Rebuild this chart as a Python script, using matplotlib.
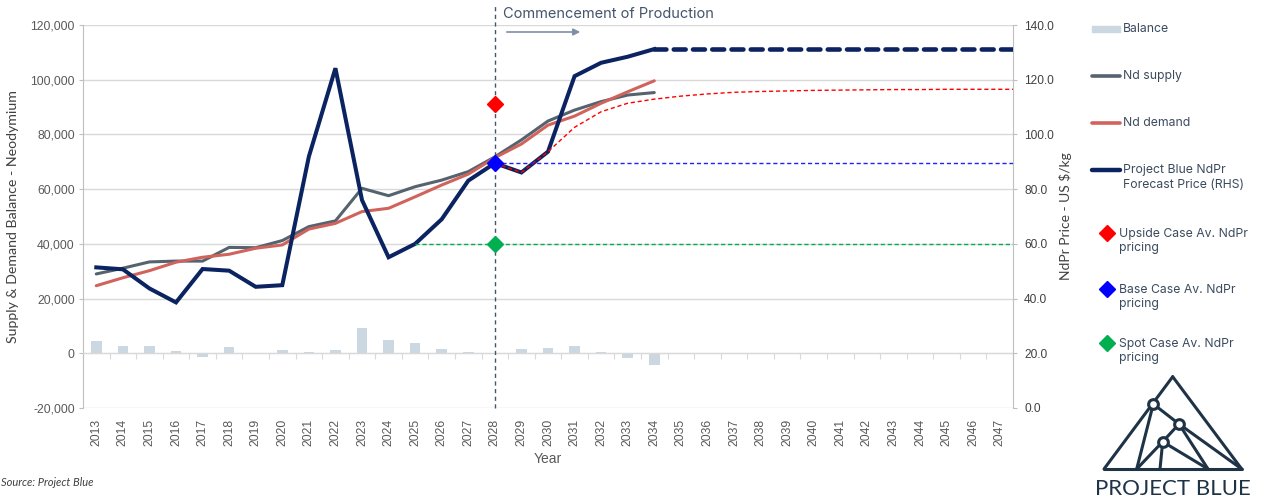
import matplotlib
matplotlib.use('Agg')
import matplotlib.pyplot as plt
import numpy as np
from matplotlib.lines import Line2D
from matplotlib.patches import Rectangle

# ---------------- data ----------------
years = list(range(2013, 2048))
hist_years = list(range(2013, 2035))
nd_supply = [29000, 31100, 33400, 33700, 33700, 38700, 38600, 41200, 46300, 48400, 60300,
             57600, 60900, 63300, 66400, 71800, 78000, 84900, 88900, 92000, 94400, 95300]
nd_demand = [24700, 27600, 30200, 33300, 35100, 36200, 38400, 39600, 45400, 47500, 51800,
             53000, 57200, 61500, 65500, 71500, 76500, 83400, 86700, 91400, 95600, 99600]
balance = [4600, 2700, 2700, 700, -1200, 2400, 0, 1200, 500, 1200, 9200,
           4800, 3800, 1700, 500, 0, 1700, 1900, 2500, 500, -1800, -4400]
price = [51.4, 50.7, 43.7, 38.6, 50.8, 50.2, 44.3, 44.9, 91.9, 124.2, 76.0,
         55.1, 60.0, 69.0, 83.1, 89.5, 86.1, 93.7, 121.3, 126.2, 128.4, 131.2]
price_flat_from = 2034
price_flat = 131.2
upside_years = list(range(2028, 2048))
upside_curve = [89.5, 86.1, 93.7, 102.6, 108.3, 111.4, 112.9, 114.0, 114.8, 115.4,
                115.7, 115.9, 116.1, 116.2, 116.3, 116.4, 116.4, 116.5, 116.5, 116.5]
case_year = 2028
upside_case = 111.1
base_case = 89.5
spot_case = 60.0
spot_start = 2025

# ---------------- style ----------------
C_SUPPLY = '#55636F'
C_DEMAND = '#D0635C'
C_PRICE = '#0B2360'
C_BAL = '#CBD8E2'
C_GRID = '#D9D9D9'
C_TICK = '#595959'
C_LEG = '#3B4B5E'
TICKFONT = 'Liberation Sans'
LABFONT = 'Lato'
LEGFONT = 'Inter'

W, H = 1267, 501
fig = plt.figure(figsize=(W / 100, H / 100), dpi=100)
fig.patch.set_facecolor('white')


def P(x, y):
    return (x / W, 1 - y / H)


ax = fig.add_axes([83 / W, 1 - 408 / H, (1013 - 83) / W, (408 - 25) / H])
ax2 = ax.twinx()

idx = np.array(years) - years[0]
hidx = np.array(hist_years) - years[0]
xmin, xmax = -0.5, len(years) - 0.5

# left axis: bars + supply/demand
ax.bar(hidx, balance, width=0.4, color=C_BAL, zorder=2)
ax.plot(hidx, nd_supply, color=C_SUPPLY, lw=2.2, zorder=3, solid_capstyle='round')
ax.plot(hidx, nd_demand, color=C_DEMAND, lw=2.2, zorder=3, solid_capstyle='round')
ax.set_xlim(xmin, xmax)
ax.set_ylim(-20000, 120000)
ax.set_yticks(np.arange(-20000, 120001, 20000))
ax.yaxis.set_major_formatter(matplotlib.ticker.FuncFormatter(lambda v, p: f'{int(v):,}'))
ax.grid(axis='y', color=C_GRID, lw=1.0, zorder=0)
ax.set_axisbelow(True)
for s in ['top', 'right']:
    ax.spines[s].set_visible(False)
ax.spines['left'].set_color('#BFBFBF')
ax.spines['bottom'].set_position(('data', 0))
ax.spines['bottom'].set_color(C_GRID)
ax.set_xticks(np.arange(xmin, xmax + 0.01, 1.0))
ax.tick_params(axis='x', which='both', length=4, color=C_GRID, labelbottom=False, direction='out')
ax.tick_params(axis='y', length=3, color='#BFBFBF', labelcolor=C_TICK, labelsize=8.8, pad=3)
for lab in ax.get_yticklabels():
    lab.set_fontfamily(TICKFONT)

sec = ax.secondary_xaxis('bottom')
sec.set_xticks(idx, labels=[str(y) for y in years], rotation=90)
sec.tick_params(length=0, labelsize=8.7, labelcolor=C_TICK, pad=8)
for lab in sec.get_xticklabels():
    lab.set_fontfamily(TICKFONT)
sec.spines['bottom'].set_visible(False)
sec.set_xlabel('Year', fontsize=10, color=C_TICK, family=TICKFONT, labelpad=4)

ax.set_ylabel('Supply & Demand Balance - Neodymium', fontsize=10.2, color='#404040',
              family=LABFONT, labelpad=8)

# right axis: price
ax2.set_ylim(0, 140)
ax2.set_yticks(np.arange(0, 141, 20))
ax2.yaxis.set_major_formatter(matplotlib.ticker.FormatStrFormatter('%.1f'))
ax2.tick_params(axis='y', length=3, color='#BFBFBF', labelcolor='#404040', labelsize=8.6, pad=5)
for lab in ax2.get_yticklabels():
    lab.set_fontfamily(TICKFONT)
for s in ['top', 'left', 'bottom']:
    ax2.spines[s].set_visible(False)
ax2.spines['right'].set_color('#BFBFBF')
ax2.set_ylabel('NdPr Price - US $/kg', fontsize=10, color='#404040', family=LABFONT, labelpad=4)

ax2.plot(hidx, price, color=C_PRICE, lw=2.9, zorder=3, solid_joinstyle='miter')
flat_start = price_flat_from - years[0]
ax2.plot([flat_start, xmax], [price_flat, price_flat], color=C_PRICE, lw=3.3,
         dashes=(2.6, 1.6), dash_capstyle='round', zorder=3)

ux = np.array(upside_years) - years[0]
ax2.plot(np.append(ux, xmax), np.append(upside_curve, upside_curve[-1]), color='#FF0000',
         lw=1.0, dashes=(3, 2), zorder=4)
cx = case_year - years[0]
ax2.plot([cx, xmax], [base_case, base_case], color='#1F1FFF', lw=1.0, dashes=(3, 2), zorder=4)
sx = spot_start - years[0]
ax2.plot([sx, xmax], [spot_case, spot_case], color='#00B050', lw=1.0, dashes=(3, 2), zorder=4)

ax.axvline(cx, ymin=0, ymax=1.052, color='#44546A', lw=1.0, dashes=(3, 2.5), clip_on=False, zorder=5)

ax2.plot([cx], [upside_case], marker='D', ms=8.5, color='#FF0000', ls='none', zorder=6)
ax2.plot([cx], [base_case], marker='D', ms=8.5, color='#0000FF', ls='none', zorder=6)
ax2.plot([cx], [spot_case], marker='D', ms=8.5, color='#00B050', ls='none', zorder=6)

# annotation
fig.text(*P(503, 14), 'Commencement of Production', fontsize=10.5, color='#44546A',
         family=LEGFONT, va='center', ha='left')
fig.add_artist(matplotlib.patches.FancyArrowPatch(P(504, 32), P(583, 32), transform=fig.transFigure,
                                                   arrowstyle='-|>', mutation_scale=10, color='#7F8FA6', lw=1.2))

# legend (manual)
fig.add_artist(Rectangle(P(1092, 32), 28 / W, 6 / H, transform=fig.transFigure, color=C_BAL))
fig.text(*P(1123, 29), 'Balance', fontsize=8.8, color=C_LEG, family=LEGFONT, va='center')
for yy, col, lw, lab in [(76, C_SUPPLY, 2.6, 'Nd supply'), (123, C_DEMAND, 2.6, 'Nd demand'),
                         (170, C_PRICE, 3.2, None)]:
    x0, y0 = P(1092, yy)
    x1, _ = P(1120, yy)
    fig.add_artist(Line2D([x0, x1], [y0, y0], transform=fig.transFigure, color=col, lw=lw,
                          solid_capstyle='round'))
    if lab:
        fig.text(*P(1123, yy), lab, fontsize=8.8, color=C_LEG, family=LEGFONT, va='center')
fig.text(*P(1123, 177.5), 'Project Blue NdPr\nForecast Price (RHS)', fontsize=8.8, color=C_LEG,
         family=LEGFONT, va='center', linespacing=1.25)
for yy, col, lab in [(233, '#FF0000', 'Upside Case Av. NdPr\npricing'),
                     (289, '#0000FF', 'Base Case Av. NdPr\npricing'),
                     (343, '#00B050', 'Spot Case Av. NdPr\npricing')]:
    fig.add_artist(Line2D([P(1107, yy)[0]], [P(1107, yy)[1]], transform=fig.transFigure,
                          marker='D', ms=8.5, color=col, ls='none'))
    fig.text(*P(1119, yy + 8), lab, fontsize=8.8, color=C_LEG, family=LEGFONT, va='center',
             linespacing=1.25)

# source
fig.text(*P(1, 483), 'Source: Project Blue', fontsize=8, style='italic', color='#404040',
         family=LABFONT, va='center')

# logo
LC = '#1F3347'
def seg(a, b, lw=2.2):
    fig.add_artist(Line2D([P(*a)[0], P(*b)[0]], [P(*a)[1], P(*b)[1]], transform=fig.transFigure,
                          color=LC, lw=lw, solid_capstyle='round'))

apex, bl, br = (1172.7, 376.7), (1104, 469), (1241.7, 469)
c1, c2, c3 = (1153.3, 404), (1179, 424), (1162.7, 441.7)
seg(apex, bl); seg(apex, br); seg(bl, br)
seg(c1, (1136.7, 469)); seg(c1, c2); seg(c2, br); seg(c2, (1208, 469))
seg(c3, (1160, 469)); seg(c3, (1136.7, 469)); seg(c3, (1208, 469)); seg(c3, c2)
for c in (c1, c2, c3):
    fig.add_artist(Line2D([P(*c)[0]], [P(*c)[1]], transform=fig.transFigure, marker='o', ms=7,
                          mfc='white', mec=LC, mew=2.2, ls='none'))
fig.text(*P(1173, 489), 'PROJECT BLUE', fontsize=16, color=LC, family=LABFONT, ha='center', va='center')

fig.savefig('out.png', dpi=100, facecolor='white')
